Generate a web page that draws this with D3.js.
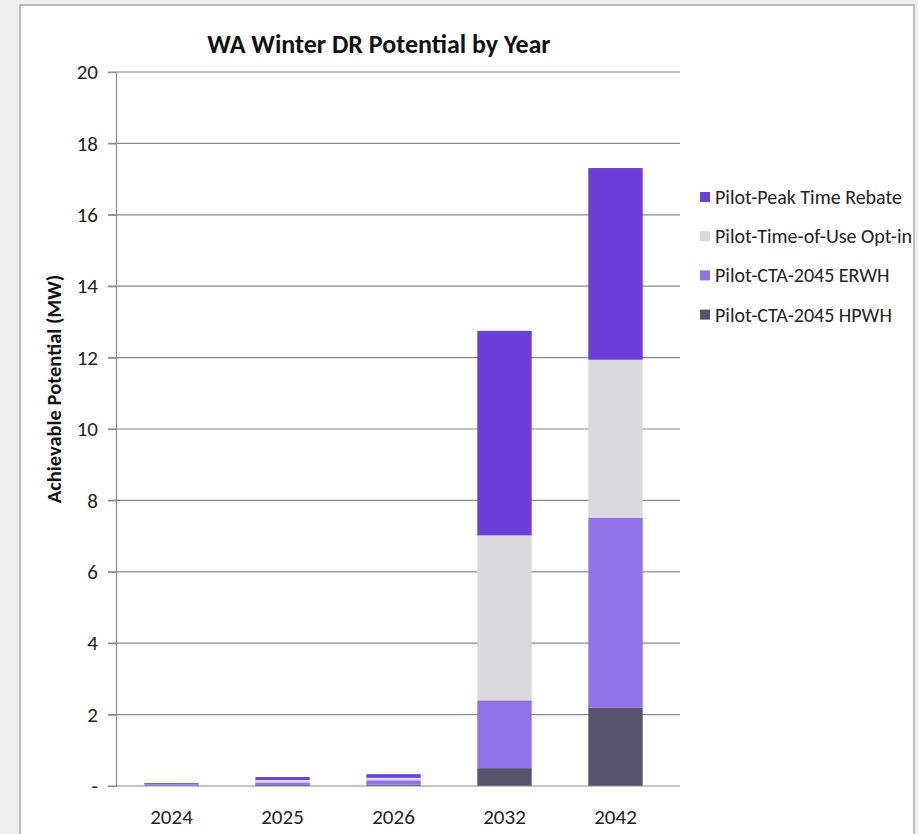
<!DOCTYPE html>
<html><head><meta charset="utf-8">
<script src="https://cdn.jsdelivr.net/npm/d3@7"></script>
<style>
html,body{margin:0;padding:0;background:#efefef;}
svg{display:block;}
</style></head>
<body>
<svg id="c" width="918" height="834"></svg>
<script>
const years = ["2024","2025","2026","2032","2042"];
const seriesNames = ["Pilot-CTA-2045 HPWH","Pilot-CTA-2045 ERWH","Pilot-Time-of-Use Opt-in","Pilot-Peak Time Rebate"];
const hpwh = [0.01, 0.03, 0.04, 0.50, 2.20];
const erwh = [0.02, 0.07, 0.12, 1.90, 5.32];
const tou  = [0.01, 0.07, 0.07, 4.62, 4.42];
const ptr  = [0.04, 0.08, 0.10, 5.73, 5.37];
const colors = ["#57536b","#9272e8","#d9d9de","#6a3fd8"];
const yTicks = [0,2,4,6,8,10,12,14,16,18,20];
const legendOrder = ["Pilot-Peak Time Rebate","Pilot-Time-of-Use Opt-in","Pilot-CTA-2045 ERWH","Pilot-CTA-2045 HPWH"];

const svg = d3.select("#c");
const font = "Carlito, 'Open Sans', 'Liberation Sans', sans-serif";

// frame
svg.append("rect").attr("x",20).attr("y",5).attr("width",894).attr("height",840)
  .attr("fill","#fff").attr("stroke","#a8a8a8").attr("stroke-width",1.5);

const x0 = 116, x1 = 671, yTop = 72, yBot = 786;
const x = d3.scaleBand().domain(years).range([x0,x1]).paddingInner(0.51).paddingOuter(0.255);
const y = d3.scaleLinear().domain([0,20]).range([yBot,yTop]);

// gridlines
svg.append("g").selectAll("line").data(yTicks.filter(d=>d>0)).join("line")
  .attr("x1",108).attr("x2",680).attr("y1",d=>y(d)).attr("y2",d=>y(d))
  .attr("stroke","#8a8a8a").attr("stroke-width",1.2);

// y axis
const yAxis = d3.axisLeft(y).tickValues(yTicks).tickSize(8).tickPadding(10)
  .tickFormat(d=> d===0 ? "-" : d);
const gy = svg.append("g").attr("transform",`translate(${x0},0)`).call(yAxis);
gy.select(".domain").attr("stroke","#8a8a8a").attr("stroke-width",1.2);
gy.selectAll(".tick line").attr("stroke","#8a8a8a").attr("stroke-width",1.2);
gy.selectAll("text").attr("font-family",font).attr("font-size",21).attr("fill","#222");

// stacked bars
const rows = years.map((yr,i)=>({year:yr,"Pilot-CTA-2045 HPWH":hpwh[i],"Pilot-CTA-2045 ERWH":erwh[i],"Pilot-Time-of-Use Opt-in":tou[i],"Pilot-Peak Time Rebate":ptr[i]}));
const stack = d3.stack().keys(seriesNames)(rows);
const color = d3.scaleOrdinal().domain(seriesNames).range(colors);
svg.append("g").selectAll("g").data(stack).join("g").attr("fill",d=>color(d.key))
  .selectAll("rect").data(d=>d).join("rect")
  .attr("x",d=>x(d.data.year)).attr("width",x.bandwidth())
  .attr("y",d=>y(d[1])).attr("height",d=>Math.max(0,y(d[0])-y(d[1])));

// x axis
const xAxis = d3.axisBottom(x).tickSize(0).tickPadding(23);
const gx = svg.append("g").attr("transform",`translate(0,${yBot})`).call(xAxis);
gx.select(".domain").remove();
gx.selectAll("text").attr("font-family",font).attr("font-size",21).attr("fill","#222");
svg.append("line").attr("x1",108).attr("x2",680).attr("y1",yBot).attr("y2",yBot)
  .attr("stroke","#8a8a8a").attr("stroke-width",1.2);

// title
svg.append("text").attr("x",379).attr("y",53).attr("text-anchor","middle")
  .attr("font-family",font).attr("font-weight","bold").attr("font-size",26).attr("fill","#111")
  .text("WA Winter DR Potential by Year");

// y label
svg.append("text").attr("transform","translate(61,389) rotate(-90)").attr("text-anchor","middle")
  .attr("font-family",font).attr("font-weight","bold").attr("font-size",20.5).attr("fill","#111")
  .text("Achievable Potential (MW)");

// legend
const lg = svg.append("g").selectAll("g").data(legendOrder).join("g")
  .attr("transform",(d,i)=>`translate(700,${197+i*39.2})`);
lg.append("rect").attr("x",0).attr("y",-5).attr("width",10).attr("height",10).attr("fill",d=>color(d));
lg.append("text").attr("x",15).attr("y",7).attr("font-family",font).attr("font-size",20).attr("fill","#222").text(d=>d);
</script>
</body></html>
